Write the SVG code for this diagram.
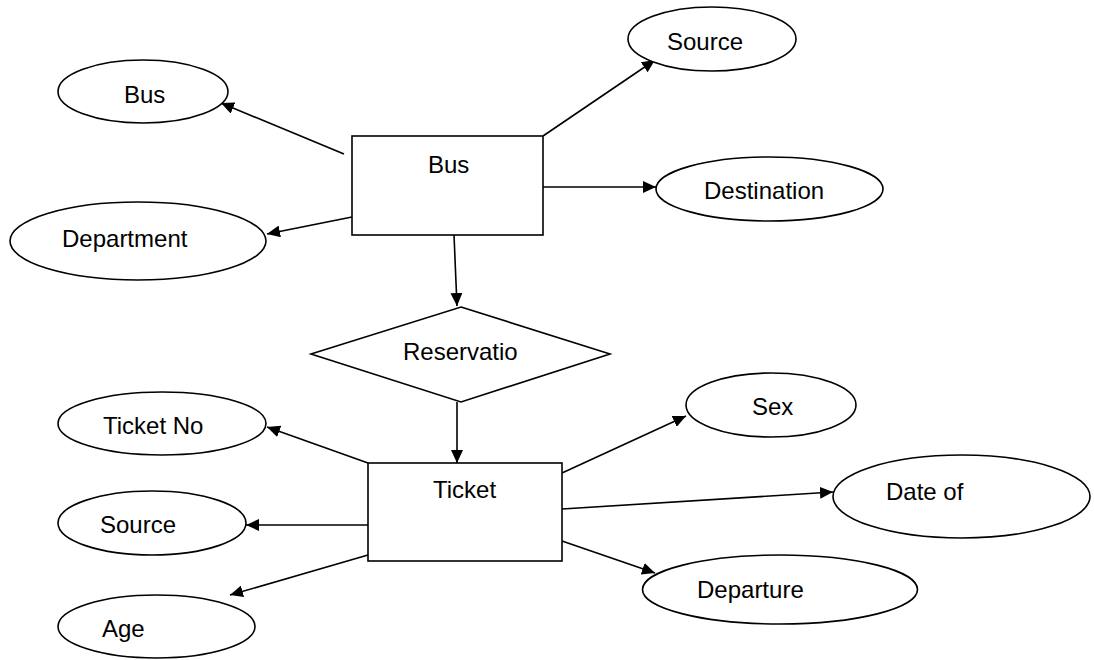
<svg xmlns="http://www.w3.org/2000/svg" width="1094" height="660" viewBox="0 0 1094 660">
<style>
.s{fill:#fff;stroke:#000;stroke-width:1.6}
.t{font-family:"Liberation Sans",Arial,sans-serif;font-size:24px;fill:#000}
.c{stroke:#000;stroke-width:1.6;fill:none;marker-end:url(#ah)}
</style>
<defs>
<marker id="ah" markerUnits="userSpaceOnUse" markerWidth="13" markerHeight="12" refX="13" refY="6" orient="auto">
<path d="M0,0 L13,6 L0,12 z" fill="#000"/>
</marker>
</defs>
<rect width="1094" height="660" fill="#fff"/>
<g id="connectors">
<line class="c" x1="344" y1="154" x2="221" y2="103"/>
<line class="c" x1="352" y1="217" x2="267" y2="234"/>
<line class="c" x1="543" y1="136" x2="655" y2="60"/>
<line class="c" x1="543" y1="187" x2="656" y2="187"/>
<line class="c" x1="454" y1="235" x2="457" y2="306"/>
<line class="c" x1="457" y1="402" x2="457" y2="463"/>
<line class="c" x1="368" y1="463" x2="267" y2="427"/>
<line class="c" x1="368" y1="525" x2="246" y2="525"/>
<line class="c" x1="368" y1="555" x2="230" y2="595"/>
<line class="c" x1="562" y1="473" x2="686" y2="416"/>
<line class="c" x1="562" y1="509" x2="833" y2="492"/>
<line class="c" x1="562" y1="541" x2="655" y2="573"/>
</g>
<g id="bus-attr"><ellipse class="s" cx="143" cy="91.5" rx="85" ry="31.5"/><text class="t" x="124" y="103">Bus</text></g>
<g id="department"><ellipse class="s" cx="138" cy="241" rx="128" ry="39"/><text class="t" x="62" y="247">Department</text></g>
<g id="bus"><rect class="s" x="352" y="136" width="191" height="99"/><text class="t" x="428" y="173">Bus</text></g>
<g id="source-top"><ellipse class="s" cx="712" cy="39" rx="84" ry="32"/><text class="t" x="667" y="50">Source</text></g>
<g id="destination"><ellipse class="s" cx="769.5" cy="189" rx="113.5" ry="32"/><text class="t" x="704" y="199">Destination</text></g>
<g id="reservation"><polygon class="s" points="461,307 610,354 461,402 311,354"/><text class="t" x="403" y="360">Reservatio</text></g>
<g id="ticket"><rect class="s" x="368" y="463" width="194" height="98"/><text class="t" x="433" y="498">Ticket</text></g>
<g id="ticket-no"><ellipse class="s" cx="162" cy="423.5" rx="104" ry="31.5"/><text class="t" x="103" y="434">Ticket No</text></g>
<g id="source-bottom"><ellipse class="s" cx="152" cy="523" rx="94" ry="32"/><text class="t" x="100" y="533">Source</text></g>
<g id="age"><ellipse class="s" cx="156.5" cy="626.5" rx="98.5" ry="31.5"/><text class="t" x="102" y="637">Age</text></g>
<g id="sex"><ellipse class="s" cx="771" cy="405" rx="85" ry="32"/><text class="t" x="752" y="415">Sex</text></g>
<g id="date-of"><ellipse class="s" cx="961.5" cy="496.5" rx="128.5" ry="41.5"/><text class="t" x="886" y="500">Date of</text></g>
<g id="departure"><ellipse class="s" cx="780" cy="589.5" rx="137.5" ry="34.5"/><text class="t" x="697" y="598">Departure</text></g>
</svg>
